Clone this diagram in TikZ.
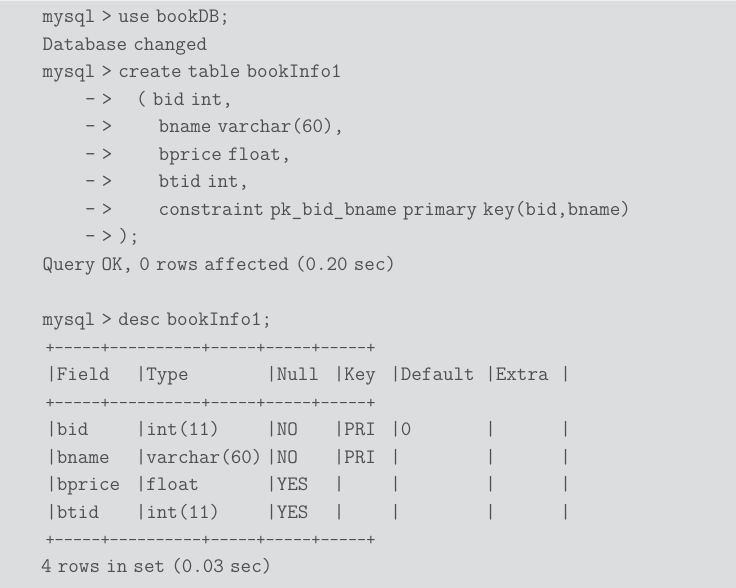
\documentclass[tikz,border=0pt]{standalone}
\usepackage{fontspec}
\newfontfamily\codefont[WordSpace=0.58]{Latin Modern Mono}
\definecolor{bgc}{HTML}{DCDDDF}
\definecolor{txt}{HTML}{505050}
\begin{document}
\begin{tikzpicture}[x=1pt,y=-1pt,
  code/.style={anchor=base west,inner sep=0pt,text=txt,font=\codefont\fontsize{20.5}{20.5}\selectfont},
  sep/.style={anchor=base west,inner sep=0pt,text=txt,font=\codefont\fontsize{17.8}{17.8}\selectfont}]
\useasboundingbox (0,0) rectangle (736,588);
\fill[bgc] (0,0) rectangle (736,588);
\fill[white!60!bgc] (0,0) rectangle (736,1.2);
% first block
\node[code] (l0) at (42.5,23) {mysql > use bookDB;};
\node[code] (l1) at (42.5,50.5) {Database changed};
\node[code] (l2) at (42.5,78) {mysql > create table bookInfo1};
\node[code] (p3) at (85,105.5) {– >};
\node[code] (l3) at (136,105.5) {( bid int,};
\node[code] (p4) at (85,133) {– >};
\node[code] (l4) at (158.5,133) {bname varchar(60),};
\node[code] (p5) at (85,160.4) {– >};
\node[code] (l5) at (158.5,160.4) {bprice float,};
\node[code] (p6) at (85,187.8) {– >};
\node[code] (l6) at (158.5,187.8) {btid int,};
\node[code] (p7) at (85,215.2) {– >};
\node[code] (l7) at (158.5,215.2) {constraint pk\_bid\_bname primary key(bid,bname)};
\node[code] (l8) at (85,242.6) {– > );};
\node[code] (l9) at (42.5,270) {Query OK, 0 rows affected (0.20 sec)};
% desc
\node[code] (l11) at (42.5,325) {mysql > desc bookInfo1;};
\node[sep] (s1) at (45.3,353) {+-----+----------+-----+-----+-----+};
\node[sep] (s2) at (45.3,408) {+-----+----------+-----+-----+-----+};
\node[sep] (s3) at (45.3,545) {+-----+----------+-----+-----+-----+};
% table rows
\foreach \y/\a/\b/\c/\d/\e/\f [count=\i] in {
  380.5/Field/Type/Null/Key/Default/Extra,
  435.5/bid/int(11)/NO/PRI/0/,
  463/bname/varchar(60)/NO/PRI//,
  490.5/bprice/float/YES///,
  518/btid/int(11)/YES///}{
  \node[code] (r\i a) at (46.1,\y) {|\a};
  \node[code] (r\i b) at (135.6,\y) {|\b};
  \node[code] (r\i c) at (266.1,\y) {|\c};
  \node[code] (r\i d) at (333.6,\y) {|\d};
  \node[code] (r\i e) at (390.1,\y) {|\e};
  \node[code] (r\i f) at (485.1,\y) {|\f};
  \node[code] (r\i g) at (560.1,\y) {|};
}
\node[code] (l20) at (41,572.5) {4 rows in set (0.03 sec)};
\end{tikzpicture}
\end{document}
